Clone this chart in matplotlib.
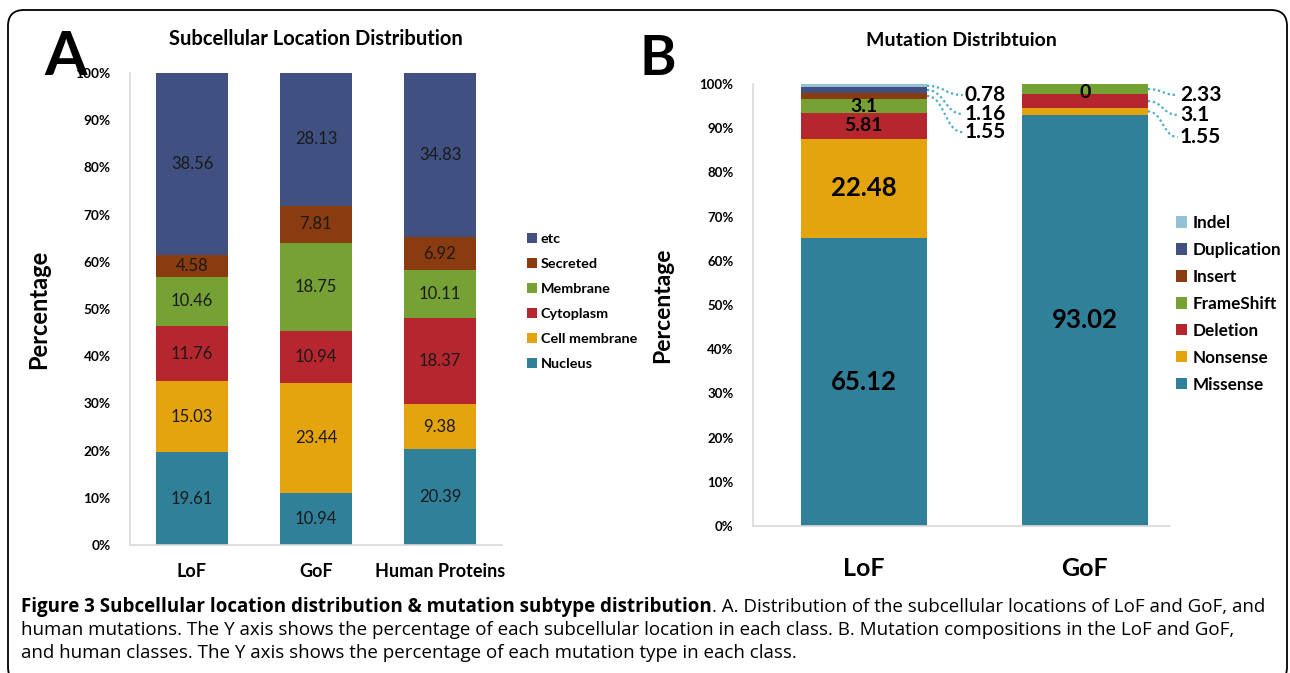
import numpy as np
import matplotlib.pyplot as plt
from matplotlib.patches import FancyBboxPatch, PathPatch
from matplotlib.path import Path
from matplotlib.transforms import IdentityTransform

# ---- data ----
loc_groups = ['LoF', 'GoF', 'Human Proteins']
loc_names = ['Nucleus', 'Cell membrane', 'Cytoplasm', 'Membrane', 'Secreted', 'etc']
loc_values = {
    'Nucleus':       [19.61, 10.94, 20.39],
    'Cell membrane': [15.03, 23.44, 9.38],
    'Cytoplasm':     [11.76, 10.94, 18.37],
    'Membrane':      [10.46, 18.75, 10.11],
    'Secreted':      [4.58, 7.81, 6.92],
    'etc':           [38.56, 28.13, 34.83],
}

mut_groups = ['LoF', 'GoF']
mut_names = ['Missense', 'Nonsense', 'Deletion', 'FrameShift', 'Insert', 'Duplication', 'Indel']
mut_values = {
    'Missense':    [65.12, 93.02],
    'Nonsense':    [22.48, 1.55],
    'Deletion':    [5.81, 3.1],
    'FrameShift':  [3.1, 2.33],
    'Insert':      [1.55, 0],
    'Duplication': [1.16, 0],
    'Indel':       [0.78, 0],
}
# segments labelled outside the bar (with dotted leader lines)
mut_callouts = {0: ['Indel', 'Duplication', 'Insert'], 1: ['FrameShift', 'Deletion', 'Nonsense']}

loc_colors = ['#31809A', '#E4A40E', '#B5262E', '#76A135', '#8A3B10', '#3F5081']
mut_colors = ['#31809A', '#E4A40E', '#B5262E', '#76A135', '#8A3B10', '#3F5081', '#93C2D6']

plt.rcParams['font.family'] = ['Lato', 'DejaVu Sans']

W, H = 1290, 673
fig = plt.figure(figsize=(W / 100, H / 100), dpi=100)

# rounded frame around the figure
fig.patches.append(FancyBboxPatch((8, -10), 1279, 673, boxstyle='round,pad=0,rounding_size=16',
                                  transform=IdentityTransform(), fill=False, ec='black', lw=1.3))


def style_axes(ax, ticksize):
    for s in ['top', 'right']:
        ax.spines[s].set_visible(False)
    for s in ['left', 'bottom']:
        ax.spines[s].set_color('#D9D9D9')
        ax.spines[s].set_linewidth(1.2)
    ax.set_ylim(0, 100)
    ax.set_yticks(np.arange(0, 101, 10))
    ax.set_yticklabels(['%d%%' % v for v in range(0, 101, 10)], fontsize=ticksize, fontweight='bold')
    ax.tick_params(axis='both', length=0)
    ax.tick_params(axis='y', pad=14)


# ---- panel A ----
axA = fig.add_axes([130 / W, 1 - 545 / H, 372 / W, 472 / H])
xa = np.arange(len(loc_groups))
bottom = np.zeros(len(loc_groups))
for name, col in zip(loc_names, loc_colors):
    vals = np.array(loc_values[name])
    axA.bar(xa, vals, 0.573, bottom=bottom, color=col, label=name)
    for x, b, v in zip(xa, bottom, vals):
        axA.text(x, b + v / 2, '%g' % v, ha='center', va='center', fontsize=12, color='#1a1a1a')
    bottom += vals
axA.set_xlim(-0.5, 2.5)
style_axes(axA, 9.8)
axA.set_xticks(xa)
axA.set_xticklabels(loc_groups, fontsize=13, fontweight='bold')
axA.tick_params(axis='x', pad=13)
axA.set_ylabel('Percentage', fontsize=17, fontweight='bold', labelpad=18.5)
axA.set_title('Subcellular Location Distribution', fontsize=14.5, fontweight='bold', pad=20)
hA, lA = axA.get_legend_handles_labels()
axA.legend(hA[::-1], lA[::-1], loc='upper left', bbox_to_anchor=(527 / W, 1 - 233 / H),
           bbox_transform=fig.transFigure, frameon=False, prop={'weight': 'bold', 'size': 10.4},
           handlelength=0.7, handleheight=0.7, handletextpad=0.25, labelspacing=0.89,
           borderpad=0, borderaxespad=0)
fig.text(44 / W, 1 - 75 / H, 'A', fontsize=44, fontweight='bold', ha='left', va='baseline')

# ---- panel B ----
axB = fig.add_axes([753 / W, 1 - 526 / H, 417 / W, 442 / H])
xb = np.arange(len(mut_groups))
bw = 0.57
bottom = np.zeros(len(mut_groups))
centers = {}
for name, col in zip(mut_names, mut_colors):
    vals = np.array(mut_values[name])
    axB.bar(xb, vals, bw, bottom=bottom, color=col, label=name)
    centers[name] = bottom + vals / 2
    bottom += vals
axB.set_xlim(-0.502, 1.385)
style_axes(axB, 9.5)
axB.set_xticks(xb)
axB.set_xticklabels(mut_groups, fontsize=18, fontweight='bold')
axB.tick_params(axis='x', pad=22)
axB.set_ylabel('Percentage', fontsize=16.5, fontweight='bold', labelpad=19)
axB.set_title('Mutation Distribtuion', fontsize=14, fontweight='bold', pad=27)

# labels inside the bars
inside = {0: ['Missense', 'Nonsense', 'Deletion', 'FrameShift'], 1: ['Missense']}
for gi, names in inside.items():
    for name in names:
        v = mut_values[name][gi]
        fs = 18.5 if v > 10 else 14
        axB.text(xb[gi], centers[name][gi], '%g' % v, ha='center', va='center',
                 fontsize=fs, fontweight='bold', color='black')
# the zero segment of GoF sitting on top
axB.text(xb[1], 100, '%g' % mut_values['Insert'][1], ha='center', va='top',
         fontsize=14, fontweight='bold', clip_on=False)

# callouts with dotted leader lines
label_y = {0: [97.5, 93.2, 89.1], 1: [97.5, 93.0, 88.0]}
label_dx = {0: 0.457, 1: 0.43}
for gi, names in mut_callouts.items():
    for name, ly in zip(names, label_y[gi]):
        x0 = xb[gi] + bw / 2
        y0 = centers[name][gi]
        x1 = xb[gi] + label_dx[gi] - 0.01
        d = (x1 - x0) * 0.5
        p = Path([(x0, y0), (x0 + d, y0), (x1 - d, ly), (x1, ly)],
                 [Path.MOVETO, Path.CURVE4, Path.CURVE4, Path.CURVE4])
        axB.add_patch(PathPatch(p, fill=False, ec='#4BACC6', lw=1.6, ls=(0, (1, 1.3)), clip_on=False))
        axB.text(x1 + 0.01, ly, '%g' % mut_values[name][gi], ha='left', va='center',
                 fontsize=15, fontweight='bold', clip_on=False)

hB, lB = axB.get_legend_handles_labels()
axB.legend(hB[::-1], lB[::-1], loc='upper left', bbox_to_anchor=(1176 / W, 1 - 215 / H),
           bbox_transform=fig.transFigure, frameon=False, prop={'weight': 'bold', 'size': 12.3},
           handlelength=0.65, handleheight=0.65, handletextpad=0.3, labelspacing=0.64,
           borderpad=0, borderaxespad=0)
fig.text(640 / W, 1 - 75 / H, 'B', fontsize=40, fontweight='bold', ha='left', va='baseline')

# ---- caption ----
cap_font = 'Open Sans'
cap_size = 13.5
cx = 21 / W
fig.canvas.draw()
t1 = fig.text(cx, 1 - 612 / H, 'Figure 3 Subcellular location distribution & mutation subtype distribution',
              fontsize=cap_size, fontweight='bold', family=cap_font)
bb = t1.get_window_extent(renderer=fig.canvas.get_renderer())
fig.text(bb.x1 / W, 1 - 612 / H, '. A. Distribution of the subcellular locations of LoF and GoF, and',
         fontsize=cap_size, family=cap_font)
fig.text(cx, 1 - 635 / H, 'human mutations. The Y axis shows the percentage of each subcellular location in each '
         'class. B. Mutation compositions in the LoF and GoF,', fontsize=cap_size, family=cap_font)
fig.text(cx, 1 - 658 / H, 'and human classes. The Y axis shows the percentage of each mutation type in each class.',
         fontsize=cap_size, family=cap_font)

fig.savefig('out.png', dpi=100)
